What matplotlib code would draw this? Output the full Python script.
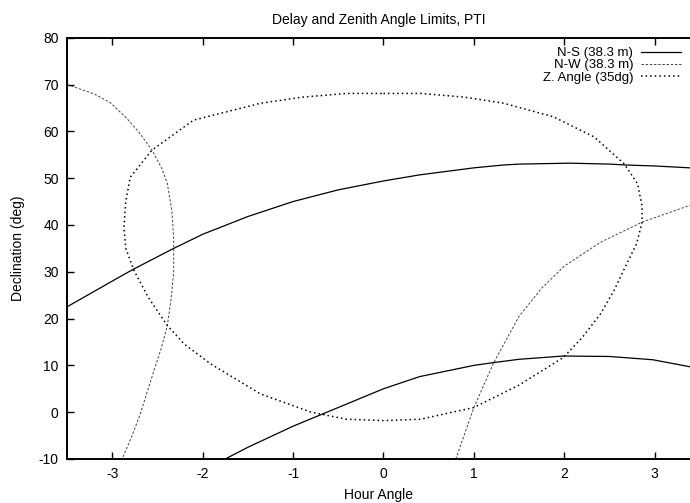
import matplotlib
matplotlib.use("Agg")
import matplotlib.pyplot as plt

plt.rcParams['font.family'] = ['Liberation Sans', 'DejaVu Sans']

title = "Delay and Zenith Angle Limits, PTI"
xlabel = "Hour Angle"
ylabel = "Declination (deg)"

# N-S (38.3 m) delay limit: two branches
ns_upper_x = [-3.5, -3.0, -2.77, -2.5, -2.33, -2.0, -1.5, -1.0, -0.5, 0.0, 0.4, 1.0, 1.32, 1.5, 2.06, 2.5, 2.69, 3.0, 3.39]
ns_upper_y = [22.5, 28.0, 30.5, 33.2, 34.9, 38.0, 41.8, 45.0, 47.5, 49.4, 50.7, 52.2, 52.8, 53.0, 53.2, 53.0, 52.8, 52.6, 52.2]
ns_lower_x = [-1.75, -1.5, -1.0, -0.5, 0.0, 0.4, 1.0, 1.22, 1.5, 1.99, 2.5, 2.98, 3.39]
ns_lower_y = [-10.0, -7.5, -3.0, 1.0, 5.0, 7.6, 10.0, 10.6, 11.3, 12.0, 11.9, 11.2, 9.7]

# N-W (38.3 m) delay limit: two branches
nw_left_x = [-3.5, -3.2, -3.02, -2.84, -2.7, -2.56, -2.45, -2.39, -2.34, -2.32, -2.32, -2.35, -2.39, -2.46, -2.54, -2.69, -2.78, -2.89]
nw_left_y = [70.0, 68.0, 66.1, 62.8, 59.7, 56.0, 52.0, 48.8, 43.0, 37.0, 30.0, 24.0, 18.5, 13.5, 8.8, -0.4, -5.0, -10.0]
nw_right_x = [0.8, 1.0, 1.22, 1.5, 1.75, 2.0, 2.4, 2.86, 3.39]
nw_right_y = [-10.0, 1.0, 10.6, 20.5, 26.5, 31.2, 36.3, 40.6, 44.2]

# Zenith angle (35 deg) limit: closed curve
za_x = [0.0, 0.41, 0.9, 1.33, 1.88, 2.33, 2.66, 2.81, 2.86, 2.86, 2.8, 2.69, 2.55, 2.4, 2.2, 1.99, 1.5, 1.0, 0.41, 0.0,
        -0.41, -0.8, -1.36, -1.91, -2.2, -2.39, -2.6, -2.76, -2.85, -2.87, -2.85, -2.8, -2.56, -2.1, -1.36, -0.9, -0.41, 0.0]
za_y = [68.1, 68.1, 67.3, 66.0, 63.1, 58.8, 53.1, 48.8, 44.0, 40.6, 36.0, 31.7, 26.0, 21.0, 16.0, 11.7, 5.8, 1.0, -1.5, -1.8,
        -1.5, 0.0, 3.9, 10.3, 14.5, 18.5, 24.5, 30.3, 35.0, 39.5, 45.0, 50.2, 56.0, 62.4, 66.0, 67.3, 68.1, 68.1]

xticks = [-3, -2, -1, 0, 1, 2, 3]
yticks = [-10, 0, 10, 20, 30, 40, 50, 60, 70, 80]

fig = plt.figure(figsize=(6.9, 5.03), dpi=100)
ax = fig.add_axes([0.0971, 0.0875, 0.9029, 0.8375])

ax.plot(ns_upper_x, ns_upper_y, color='black', lw=0.9, label='N-S (38.3 m)')
ax.plot(ns_lower_x, ns_lower_y, color='black', lw=0.9)
ax.plot(nw_left_x, nw_left_y, color='#444444', lw=0.7, dashes=(2.5, 1.8), label='N-W (38.3 m)')
ax.plot(nw_right_x, nw_right_y, color='#444444', lw=0.7, dashes=(2.5, 1.8))
ax.plot(za_x, za_y, color='black', lw=1.1, dashes=(1.0, 2.0), label='Z. Angle (35dg)')

ax.set_xlim(-3.5, 3.39)
ax.set_ylim(-10, 80)
ax.set_xticks(xticks)
ax.set_yticks(yticks)
ax.set_xticklabels([str(t) for t in xticks])
ax.set_yticklabels([str(t) for t in yticks])
ax.tick_params(direction='in', length=5, width=1, top=True, right=False, labelsize=10, pad=6)
for s in ['left', 'bottom', 'top']:
    ax.spines[s].set_linewidth(1.4)
ax.spines['right'].set_visible(False)

ax.set_title(title, fontsize=10, pad=10)
ax.set_xlabel(xlabel, fontsize=10, labelpad=5)
ax.set_ylabel(ylabel, fontsize=10, labelpad=10)

leg = ax.legend(loc='upper right', frameon=False, markerfirst=False, fontsize=9.5,
                handlelength=3.0, labelspacing=0.0, borderaxespad=0.3, handletextpad=0.6,
                bbox_to_anchor=(1.0, 1.0))
for t in leg.get_texts():
    t.set_ha('right')

fig.savefig('out.png', dpi=100)
